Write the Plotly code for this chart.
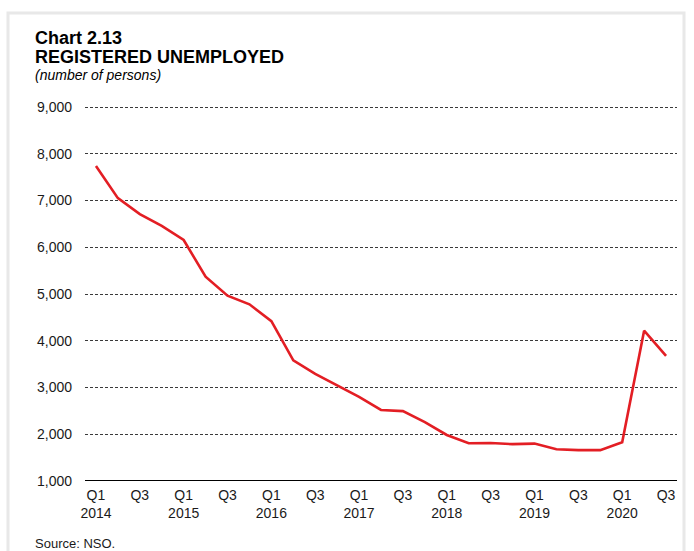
import plotly.graph_objects as go

quarters = ["Q1 2014", "Q2 2014", "Q3 2014", "Q4 2014",
            "Q1 2015", "Q2 2015", "Q3 2015", "Q4 2015",
            "Q1 2016", "Q2 2016", "Q3 2016", "Q4 2016",
            "Q1 2017", "Q2 2017", "Q3 2017", "Q4 2017",
            "Q1 2018", "Q2 2018", "Q3 2018", "Q4 2018",
            "Q1 2019", "Q2 2019", "Q3 2019", "Q4 2019",
            "Q1 2020", "Q2 2020", "Q3 2020"]
unemployed = [7740, 7050, 6710, 6455,
              6155, 5370, 4965, 4780,
              4420, 3580, 3290, 3050,
              2800, 2520, 2495, 2260,
              1985, 1808, 1812, 1788,
              1800, 1680, 1660, 1660,
              1830, 4215, 3675]
tick_labels = ["Q1<br>2014", "Q3", "Q1<br>2015", "Q3", "Q1<br>2016", "Q3",
               "Q1<br>2017", "Q3", "Q1<br>2018", "Q3", "Q1<br>2019", "Q3",
               "Q1<br>2020", "Q3"]
y_ticks = [1000, 2000, 3000, 4000, 5000, 6000, 7000, 8000, 9000]

x_idx = list(range(len(quarters)))
tick_pos = x_idx[::2]

fig = go.Figure()
fig.add_trace(go.Scatter(
    x=x_idx, y=unemployed, mode="lines",
    line=dict(color="#e31e24", width=2.6),
    hoverinfo="text", text=[f"{q}: {v:,}" for q, v in zip(quarters, unemployed)],
))

font_family = "Liberation Sans, Arial, sans-serif"
L, T, PW, PH = 85, 104, 592, 377
Y_MAX = 1000 + PH * 8000 / 374


def px_x(x):
    return (x - L) / PW


def px_y(y):
    return (T + PH - y) / PH


fig.update_layout(
    width=694, height=551,
    margin=dict(l=L, r=694 - L - PW, t=T, b=551 - T - PH),
    paper_bgcolor="white", plot_bgcolor="white",
    showlegend=False,
    font=dict(family=font_family, size=14, color="#1a1a1a"),
    xaxis=dict(
        range=[-0.5, len(quarters) - 0.5],
        tickmode="array", tickvals=tick_pos, ticktext=tick_labels,
        showgrid=False, zeroline=False, showline=False,
        ticks="", ticklabelstandoff=4,
        tickfont=dict(size=14, color="#1a1a1a"),
        fixedrange=True,
    ),
    yaxis=dict(
        range=[1000, Y_MAX],
        tickmode="array", tickvals=y_ticks,
        tickformat=",d",
        showgrid=True, gridcolor="#3a3a3a", griddash="3px,2px", gridwidth=1,
        zeroline=False, showline=False, ticks="",
        ticklabelstandoff=12,
        tickfont=dict(size=14, color="#1a1a1a"),
        fixedrange=True,
    ),
    shapes=[
        dict(type="line", xref="paper", yref="y", x0=0, x1=1, y0=1000, y1=1000,
             line=dict(color="black", width=2)),
        dict(type="rect", xref="paper", yref="paper",
             x0=px_x(8), x1=px_x(684), y0=-1, y1=px_y(13),
             line=dict(color="#e8e8e8", width=3), layer="below"),
    ],
    annotations=[
        dict(text="<b>Chart 2.13</b>", xref="paper", yref="paper",
             x=px_x(33), y=px_y(26), xanchor="left", yanchor="top",
             showarrow=False, font=dict(size=18, color="black", family=font_family)),
        dict(text="<b>REGISTERED UNEMPLOYED</b>", xref="paper", yref="paper",
             x=px_x(33), y=px_y(45), xanchor="left", yanchor="top",
             showarrow=False, font=dict(size=18, color="black", family=font_family)),
        dict(text="<i>(number of persons)</i>", xref="paper", yref="paper",
             x=px_x(33), y=px_y(65), xanchor="left", yanchor="top",
             showarrow=False, font=dict(size=14, color="black", family=font_family)),
        dict(text="Source: NSO.", xref="paper", yref="paper",
             x=px_x(33), y=px_y(534), xanchor="left", yanchor="top",
             showarrow=False, font=dict(size=13, color="#1a1a1a", family=font_family)),
    ],
)

fig.write_html("out.html")
